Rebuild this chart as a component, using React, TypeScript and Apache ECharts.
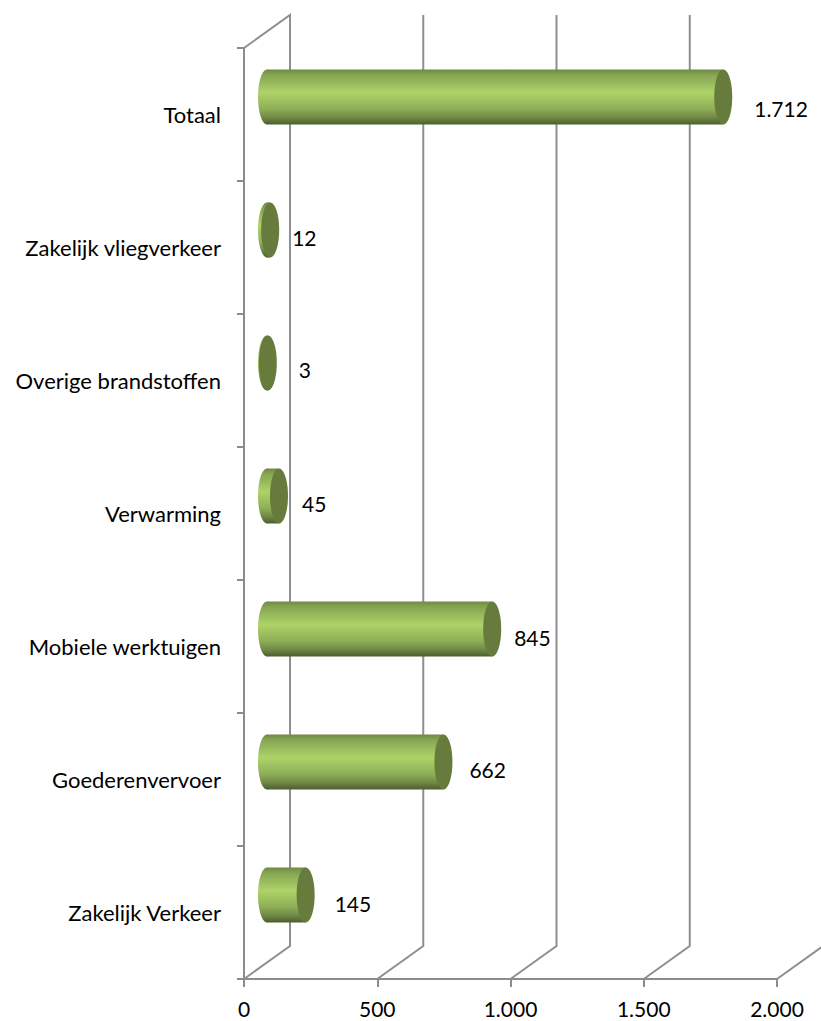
import React, { useEffect, useRef } from "react";
import * as echarts from "echarts";

const categories = ["Zakelijk Verkeer", "Goederenvervoer", "Mobiele werktuigen", "Verwarming", "Overige brandstoffen", "Zakelijk vliegverkeer", "Totaal"];
const values = [145, 662, 845, 45, 3, 12, 1712];
const xTicks = [0, 500, 1000, 1500, 2000];

const FONT = "Lato, Carlito, sans-serif";
const DEPTH_X = 46;
const DEPTH_Y = 33;
const labelDx = [20, 17, 13, 14, 22, 13, 22];
const labelDy = [9, 10, 9, 10, 11, 10, 6];

const fmt = (v: number) => String(v).replace(/\B(?=(\d{3})+$)/g, ".");

const bodyFill = () =>
  new echarts.graphic.LinearGradient(0, 0, 0, 1, [
    { offset: 0, color: "#6f8a45" },
    { offset: 0.1, color: "#86a552" },
    { offset: 0.42, color: "#add368" },
    { offset: 0.72, color: "#8eae57" },
    { offset: 0.88, color: "#6f8744" },
    { offset: 1, color: "#4c5d2e" },
  ]);

export default function App() {
  const ref = useRef<HTMLDivElement>(null);
  useEffect(() => {
    document.body.style.margin = "0";
    const chart = echarts.init(ref.current!, undefined, { renderer: "svg" });
    chart.setOption({
      animation: false,
      grid: { left: 244, right: 44, top: 48, bottom: 42 },
      xAxis: {
        type: "value",
        min: 0,
        max: 2000,
        interval: 500,
        splitLine: { show: false },
        axisLine: { show: true, onZero: false, lineStyle: { color: "#8c8c8c", width: 2 } },
        axisTick: { show: true, length: 8, lineStyle: { color: "#8c8c8c", width: 2 } },
        axisLabel: { color: "#000", fontSize: 21, fontFamily: FONT, margin: 19, formatter: (v: number) => fmt(v), hideOverlap: false, showMinLabel: true, showMaxLabel: true },
      },
      yAxis: {
        type: "category",
        data: categories,
        axisLine: { show: true, lineStyle: { color: "#8c8c8c", width: 2 } },
        axisTick: { show: true, length: 7, lineStyle: { color: "#8c8c8c", width: 2 } },
        axisLabel: { color: "#000", fontSize: 22, fontFamily: FONT, margin: 23, interval: 0 },
      },
      series: [
        {
          type: "custom",
          silent: true,
          clip: false,
          z: 1,
          data: xTicks.map((t) => [t]),
          encode: { x: 0 },
          renderItem: (params: any, api: any) => {
            const v = api.value(0);
            const x = api.coord([v, 0])[0];
            const cs = params.coordSys;
            const bottom = cs.y + cs.height;
            const pts: number[][] = [[x, bottom], [x + DEPTH_X, bottom - DEPTH_Y], [x + DEPTH_X, cs.y - DEPTH_Y]];
            if (v === 0) pts.push([x, cs.y]);
            return {
              type: "polyline",
              shape: { points: pts },
              style: { fill: "none", stroke: "#8f8f8f", lineWidth: 2 },
            };
          },
        },
        {
          type: "custom",
          clip: false,
          z: 3,
          data: values.map((v, i) => [v, i]),
          encode: { x: 0, y: 1 },
          renderItem: (params: any, api: any) => {
            const val = api.value(0);
            const i = api.value(1);
            const start = api.coord([0, i]);
            const end = api.coord([val, i]);
            const band = api.size([0, 1])[1];
            const h = band * 0.413;
            const rx = 9;
            const cy = start[1] - DEPTH_Y / 2 - 1;
            const x0 = start[0] + DEPTH_X / 2;
            const x1 = end[0] + DEPTH_X / 2;
            return {
              type: "group",
              children: [
                { type: "ellipse", shape: { cx: x0, cy, rx, ry: h / 2 }, style: { fill: bodyFill() } },
                { type: "rect", shape: { x: x0, y: cy - h / 2, width: x1 - x0, height: h }, style: { fill: bodyFill() } },
                { type: "ellipse", shape: { cx: x1, cy, rx, ry: h / 2 }, style: { fill: "#677b3c" } },
                {
                  type: "text",
                  style: {
                    x: x1 + rx + labelDx[params.dataIndex],
                    y: start[1] - labelDy[params.dataIndex],
                    text: fmt(val),
                    fill: "#000",
                    fontSize: 21,
                    fontFamily: FONT,
                    align: "left",
                    verticalAlign: "middle",
                  },
                },
              ],
            };
          },
        },
      ],
    });
    return () => chart.dispose();
  }, []);
  return <div ref={ref} style={{ position: "absolute", left: 0, top: 0, width: 821, height: 1021 }} />;
}
